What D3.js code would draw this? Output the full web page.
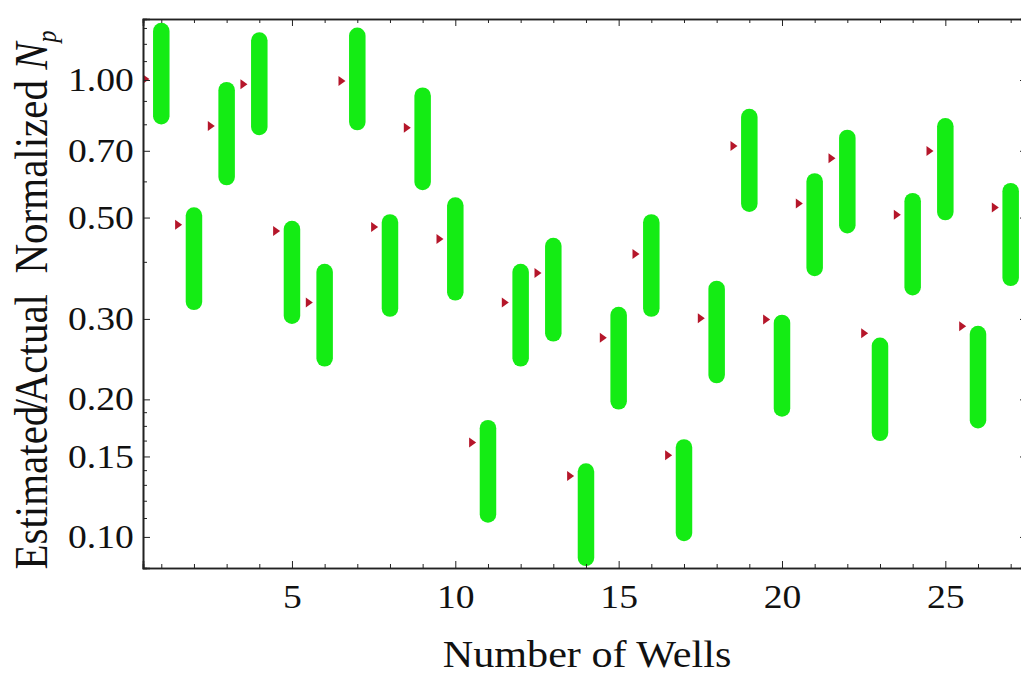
<!DOCTYPE html>
<html>
<head>
<meta charset="utf-8">
<script src="https://cdn.jsdelivr.net/npm/d3@7"></script>
<style>
  body { margin: 0; background: #fff; }
  svg { display: block; }
  .axis path, .axis line { stroke: #222; }
  .axis path { stroke-width: 1.6; }
  .axis text { font-family: "Liberation Serif", "Times New Roman", serif; fill: #111; }
</style>
</head>
<body>
<div id="chart"></div>
<script>
// data
const wells = [1,2,3,4,5,6,7,8,9,10,11,12,13,14,15,16,17,18,19,20,21,22,23,24,25,26,27];
const highVals = [1.28,0.505,0.95,1.22,0.472,0.38,1.25,0.488,0.924,0.531,0.173,0.38,0.433,0.139,0.306,0.488,0.157,0.349,0.83,0.294,0.60,0.747,0.262,0.543,0.792,0.278,0.571];
const lowVals  = [0.833,0.327,0.613,0.789,0.305,0.246,0.809,0.316,0.598,0.343,0.112,0.246,0.279,0.090,0.198,0.316,0.102,0.226,0.536,0.191,0.388,0.481,0.169,0.352,0.514,0.180,0.369];
const markVals = [1.005,0.482,0.793,0.979,0.467,0.326,0.995,0.477,0.786,0.449,0.161,0.326,0.378,0.136,0.273,0.416,0.151,0.301,0.717,0.299,0.537,0.674,0.279,0.507,0.699,0.289,0.526];

const yMajor = [0.1,0.15,0.2,0.3,0.5,0.7,1.0];
const yMinor = [0.11,0.12,0.13,0.14,0.1625,0.175,0.1875,0.4,0.6,0.8,0.9,1.1,1.2,1.3];
const xMajor = [5,10,15,20,25];
const xMinor = [1,2,3,4,6,7,8,9,11,12,13,14,16,17,18,19,21,22,23,24,26,27];

const W = 1021, H = 674;
const margin = {left:143, top:19};
const width = 884, height = 549;
const stretch = "scale(1.14,1)";

let svg = d3.select("#chart").append("svg")
    .attr("width", W).attr("height", H);

let g = svg.append("g")
    .attr("transform", "translate(" + margin.left + "," + margin.top + ")");

let xScale = d3.scaleLinear().domain([0.44, 27.5]).range([0, width]);
let yScale = d3.scaleLog().domain([0.0855, 1.36]).range([height, 0]);

g.append("clipPath").attr("id", "plotclip")
  .append("rect").attr("width", width).attr("height", height);

let plot = g.append("g").attr("clip-path", "url(#plotclip)");

// green ranges
plot.selectAll("line.bar")
    .data(wells)
    .enter().append("line")
    .attr("class", "bar")
    .attr("x1", (d) => xScale(d))
    .attr("x2", (d) => xScale(d))
    .attr("y1", (d,i) => yScale(lowVals[i]))
    .attr("y2", (d,i) => yScale(highVals[i]))
    .attr("stroke", "#14ec14")
    .attr("stroke-width", 16.5)
    .attr("stroke-linecap", "round");

// red markers
plot.selectAll("path.mark")
    .data(wells)
    .enter().append("path")
    .attr("class", "mark")
    .attr("transform", (d,i) => "translate(" + xScale(d - 0.5) + "," + yScale(markVals[i]) + ")")
    .attr("d", "M-2.5,-5L4.5,0L-2.5,5Z")
    .attr("fill", "#b5162a");

// axes
function minorAxis(axis, vals){
    return axis.tickValues(vals).tickSize(-4).tickFormat("");
}

let fmt = d3.format(".2f");

g.append("g").attr("class", "axis")
  .call(minorAxis(d3.axisLeft(yScale), yMinor));
g.append("g").attr("class", "axis y")
  .call(d3.axisLeft(yScale).tickValues(yMajor).tickSize(-7).tickPadding(8).tickFormat(fmt))
  .selectAll("text")
  .style("font-size", "33px")
  .attr("transform", stretch);

g.append("g").attr("class", "axis")
  .attr("transform", "translate(0," + height + ")")
  .call(minorAxis(d3.axisBottom(xScale), xMinor));
g.append("g").attr("class", "axis x")
  .attr("transform", "translate(0," + height + ")")
  .call(d3.axisBottom(xScale).tickValues(xMajor).tickSize(-7).tickFormat(d3.format("d")))
  .selectAll("text")
  .style("font-size", "33px")
  .attr("y", 40).attr("dy", 0)
  .attr("transform", stretch);

// top and right frame
g.append("g").attr("class", "axis")
  .call(minorAxis(d3.axisTop(xScale), xMinor));
g.append("g").attr("class", "axis")
  .call(d3.axisTop(xScale).tickValues(xMajor).tickSize(-7).tickFormat(""));
g.append("g").attr("class", "axis")
  .attr("transform", "translate(" + width + ",0)")
  .call(d3.axisRight(yScale).tickValues(yMajor).tickSize(-7).tickFormat(""));

// axis titles
svg.append("text")
  .attr("transform", "translate(587,667) " + stretch)
  .attr("text-anchor", "middle")
  .style("font-family", "Liberation Serif, serif")
  .style("font-size", "37px")
  .attr("fill", "#111")
  .text("Number of Wells");

let yt = svg.append("text")
  .attr("transform", "translate(47,300) " + stretch + " rotate(-90)")
  .attr("text-anchor", "middle")
  .style("font-family", "Liberation Serif, serif")
  .style("font-size", "41px")
  .attr("fill", "#111");
yt.append("tspan").text("Estimated");
yt.append("tspan").attr("dx", "-0.12em").text("/");
yt.append("tspan").attr("dx", "-0.1em").text("Actual\u00a0\u00a0Normalized ");
yt.append("tspan").style("font-style", "italic").text("N");
yt.append("tspan").style("font-style", "italic").style("font-size", "24px").attr("dy", "8").text("p");
</script>
</body>
</html>
